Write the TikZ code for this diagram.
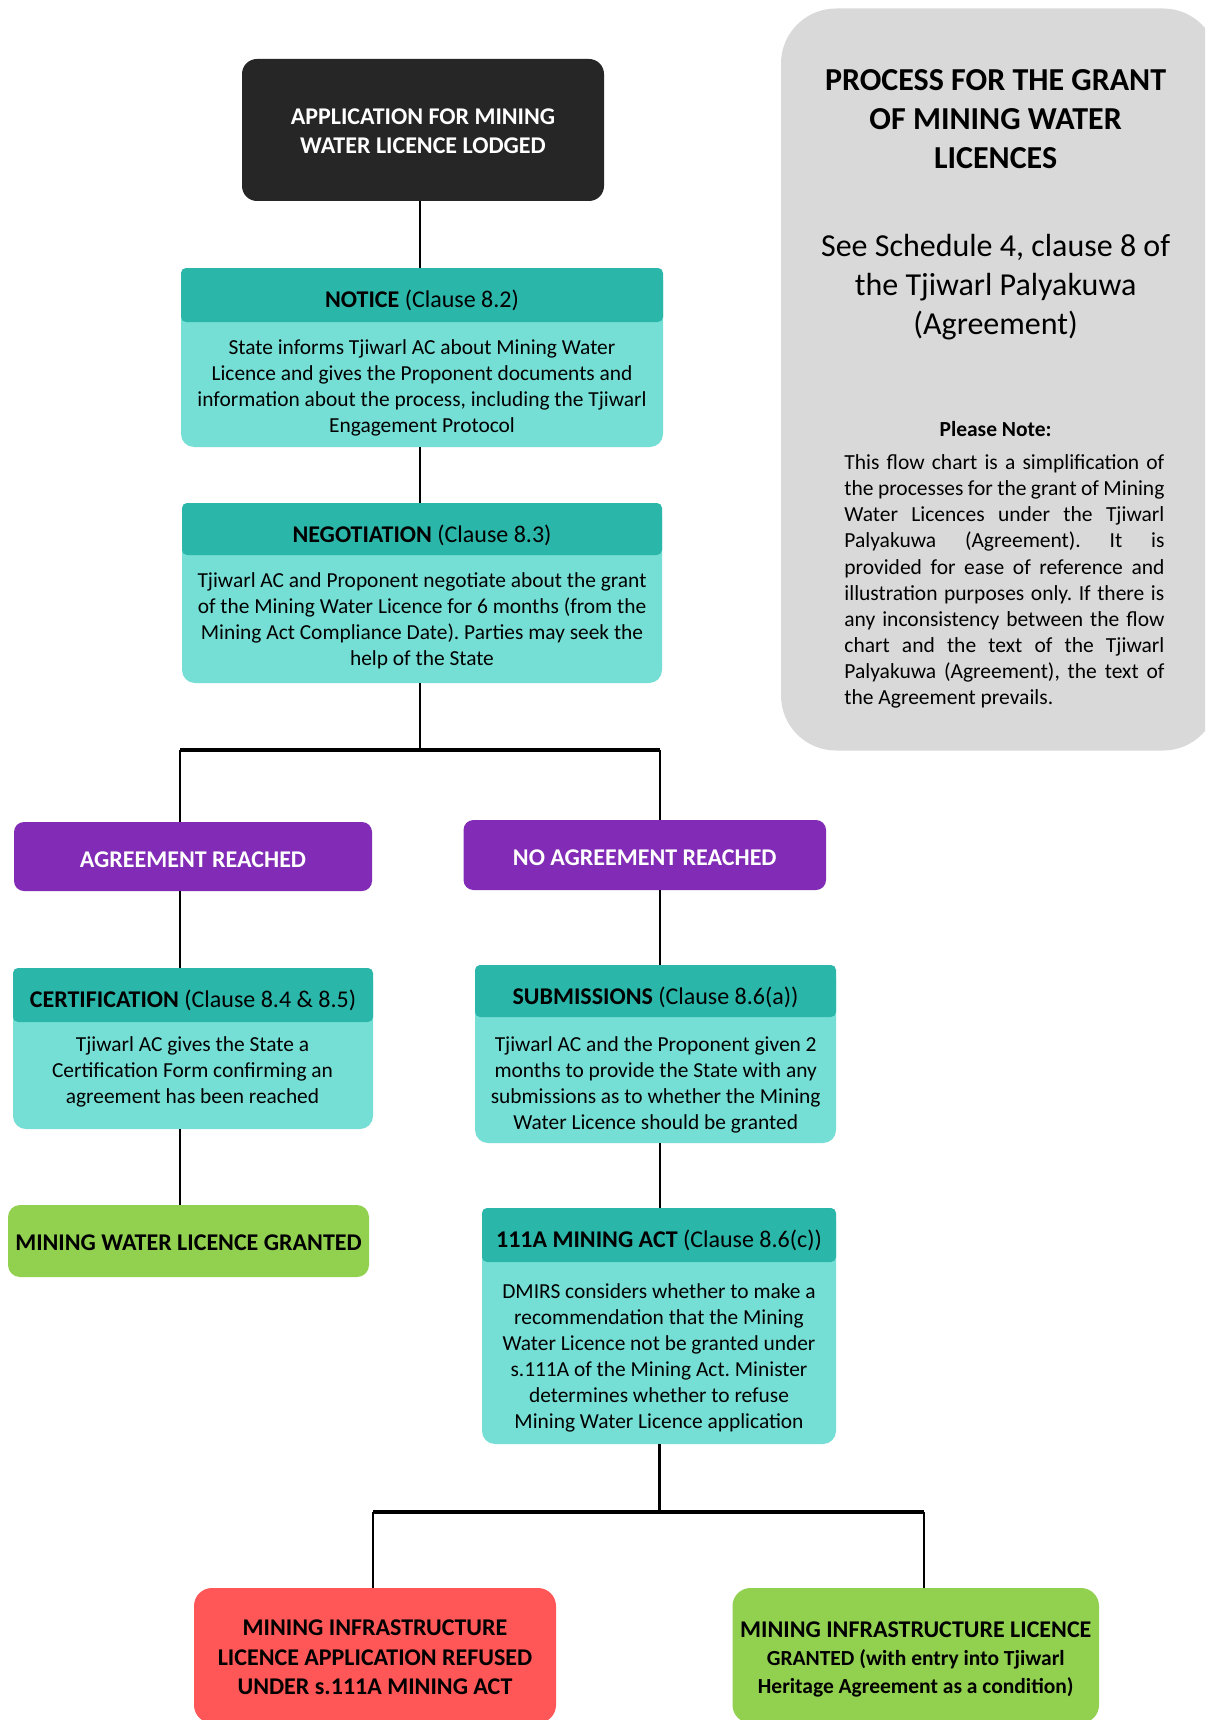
\documentclass[tikz,border=0pt]{standalone}
\usepackage{fontspec}
\setmainfont{Carlito}
\definecolor{boxblack}{HTML}{262626}
\definecolor{tealdark}{HTML}{2BB6AA}
\definecolor{teallight}{HTML}{76DFD5}
\definecolor{purp}{HTML}{812BB6}
\definecolor{grn}{HTML}{92D050}
\definecolor{redb}{HTML}{FF5757}
\definecolor{grayb}{HTML}{D9D9D9}
\newcommand\fsz[2]{\fontsize{#1}{#2}\selectfont}
\frenchspacing
\begin{document}
\begin{tikzpicture}[x=1pt,y=-1pt,
  box/.style={rectangle, inner sep=0pt, align=center},
  appbox/.style={box, fill=boxblack, rounded corners=15pt, text=white, font=\bfseries\fsz{24}{29}},
  tbody/.style={box, fill=teallight, rounded corners=13pt},
  thead/.style={box, fill=tealdark, rounded corners=5pt},
  htxt/.style={inner sep=0pt, align=center, font=\fsz{24}{26}},
  btxt/.style={inner sep=0pt, align=center, font=\fsz{21.4}{26}},
  pbox/.style={box, fill=purp, rounded corners=10pt, text=white, font=\bfseries\fsz{24}{27}},
  gbox/.style={box, fill=grn, rounded corners=12pt, font=\bfseries\fsz{24}{29}},
  rbox/.style={box, fill=redb, rounded corners=18pt, font=\bfseries\fsz{24}{29.5}},
  conn/.style={draw=black, line width=2.6pt},
  forkline/.style={draw=black, line width=3.2pt}
]
\clip (0,0) rectangle (1205,1720);
\fill[white] (0,0) rectangle (1205,1720);

% info panel
\node[box, fill=grayb, rounded corners=55pt, minimum width=437pt, minimum height=742pt] (info) at (999.5,379.5) {};
\node[inner sep=0pt, align=center, font=\bfseries\fsz{32}{39}] (title) at (995.6,119.5) {PROCESS FOR THE GRANT\\OF MINING WATER\\LICENCES};
\node[inner sep=0pt, align=center, font=\fsz{32}{39}] (see) at (995.6,287) {See Schedule 4, clause 8 of\\the Tjiwarl Palyakuwa\\(Agreement)};
\node[inner sep=0pt, font=\bfseries\fsz{21.5}{26}] (pnote) at (995.6,429) {Please Note:};
\node[inner sep=0pt, align=left, font=\fsz{21.5}{26.1}] (pbody) at (1004.4,581.5) {%
\makebox[320pt][s]{This flow chart is a simplification of}\\
\makebox[320pt][s]{the processes for the grant of Mining}\\
\makebox[320pt][s]{Water Licences under the Tjiwarl}\\
\makebox[320pt][s]{Palyakuwa (Agreement). It is}\\
\makebox[320pt][s]{provided for ease of reference and}\\
\makebox[320pt][s]{illustration purposes only. If there is}\\
\makebox[320pt][s]{any inconsistency between the flow}\\
\makebox[320pt][s]{chart and the text of the Tjiwarl}\\
\makebox[320pt][s]{Palyakuwa (Agreement), the text of}\\
\makebox[320pt][l]{the Agreement prevails.}};

% application
\node[appbox, minimum width=362pt, minimum height=142pt] (app) at (423,130) {};
\node[inner sep=0pt, align=center, text=white, font=\bfseries\fsz{24}{29}] (apptxt) at (423,131) {APPLICATION FOR MINING\\WATER LICENCE LODGED};

% notice
\node[tbody, minimum width=482pt, minimum height=179pt] (notice) at (422,357.5) {};
\node[thead, minimum width=482pt, minimum height=54pt] (noticehd) at (422,295) {};
\node[htxt] (noticeh) at (422,300.5) {\textbf{NOTICE} (Clause 8.2)};
\node[btxt] (noticeb) at (422,387.5) {State informs Tjiwarl AC about Mining Water\\Licence and gives the Proponent documents and\\information about the process, including the Tjiwarl\\Engagement Protocol};

% negotiation
\node[tbody, minimum width=480pt, minimum height=180pt] (neg) at (422,593) {};
\node[thead, minimum width=480pt, minimum height=52pt] (neghd) at (422,529) {};
\node[htxt] (negh) at (422,535) {\textbf{NEGOTIATION} (Clause 8.3)};
\node[btxt] (negb) at (422,621) {Tjiwarl AC and Proponent negotiate about the grant\\of the Mining Water Licence for 6 months (from the\\Mining Act Compliance Date). Parties may seek the\\help of the State};

% agreement / no agreement
\node[pbox, minimum width=358pt, minimum height=69pt] (agr) at (193,856.5) {};
\node[inner sep=0pt, text=white, font=\bfseries\fsz{24}{27}] (agrtxt) at (193,859.5) {AGREEMENT REACHED};
\node[pbox, minimum width=362.5pt, minimum height=70pt] (nagr) at (644.75,855) {};
\node[inner sep=0pt, text=white, font=\bfseries\fsz{24}{27}] (nagrtxt) at (644.75,858) {NO AGREEMENT REACHED};

% certification
\node[tbody, minimum width=360pt, minimum height=161pt] (cert) at (193,1048.5) {};
\node[thead, minimum width=360pt, minimum height=54pt] (certhd) at (193,995) {};
\node[htxt] (certh) at (193,1000.5) {\textbf{CERTIFICATION} (Clause 8.4 \& 8.5)};
\node[btxt] (certb) at (192.5,1072) {Tjiwarl AC gives the State a\\Certification Form confirming an\\agreement has been reached};

% submissions
\node[tbody, minimum width=361pt, minimum height=178pt] (subm) at (655.5,1054) {};
\node[thead, minimum width=361pt, minimum height=52pt] (submhd) at (655.5,991) {};
\node[htxt] (submh) at (655.5,997) {\textbf{SUBMISSIONS} (Clause 8.6(a))};
\node[btxt] (submb) at (655.7,1085) {Tjiwarl AC and the Proponent given 2\\months to provide the State with any\\submissions as to whether the Mining\\Water Licence should be granted};

% granted (left)
\node[gbox, minimum width=361pt, minimum height=72pt] (mwl) at (188.5,1241) {};
\node[inner sep=0pt, font=\bfseries\fsz{24}{29}] (mwltxt) at (188.5,1243) {MINING WATER LICENCE GRANTED};

% 111A
\node[tbody, minimum width=354pt, minimum height=236pt] (act) at (659,1326) {};
\node[thead, minimum width=354pt, minimum height=54pt] (acthd) at (659,1235) {};
\node[htxt] (acth) at (659,1240.5) {\textbf{111A MINING ACT} (Clause 8.6(c))};
\node[btxt] (actb) at (659,1358) {DMIRS considers whether to make a\\recommendation that the Mining\\Water Licence not be granted under\\s.111A of the Mining Act. Minister\\determines whether to refuse\\Mining Water Licence application};

% outcomes
\node[rbox, minimum width=362pt, minimum height=135pt] (refused) at (375,1655.5) {};
\node[inner sep=0pt, align=center, font=\bfseries\fsz{24}{29.5}] (refusedtxt) at (375,1657.5) {MINING INFRASTRUCTURE\\LICENCE APPLICATION REFUSED\\UNDER s.111A MINING ACT};
\node[gbox, rounded corners=18pt, minimum width=366.5pt, minimum height=135pt] (granted) at (915.75,1655.5) {};
\node[inner sep=0pt, align=center, font=\bfseries\fsz{21.5}{28}] (grantedtxt) at (915.75,1659.5) {{\fsz{24}{28}MINING INFRASTRUCTURE LICENCE}\\GRANTED (with entry into Tjiwarl\\Heritage Agreement as a condition)};

% connectors
\coordinate (fork1) at (420,750);
\coordinate (forkL) at (180,750);
\coordinate (forkR) at (660,750);
\coordinate (fork2) at (659.5,1512);
\coordinate (fork2L) at (373,1512);
\coordinate (fork2R) at (924,1512);

\draw[conn] (app.south -| fork1) -- (notice.north -| fork1);
\draw[conn] (notice.south -| fork1) -- (neg.north -| fork1);
\draw[conn] (neg.south -| fork1) -- (fork1);
\draw[forkline] (forkL) -- (forkR);
\draw[conn] (forkL) -- (agr.north -| forkL);
\draw[conn] (forkR) -- (nagr.north -| forkR);
\draw[conn] (agr.south -| forkL) -- (cert.north -| forkL);
\draw[conn] (cert.south -| forkL) -- (mwl.north -| forkL);
\draw[conn] (nagr.south -| forkR) -- (subm.north -| forkR);
\draw[conn] (subm.south -| forkR) -- (act.north -| forkR);
\draw[conn] (act.south -| fork2) -- (fork2);
\draw[forkline] (fork2L) -- (fork2R);
\draw[conn] (fork2L) -- (refused.north -| fork2L);
\draw[conn] (fork2R) -- (granted.north -| fork2R);
\end{tikzpicture}
\end{document}
